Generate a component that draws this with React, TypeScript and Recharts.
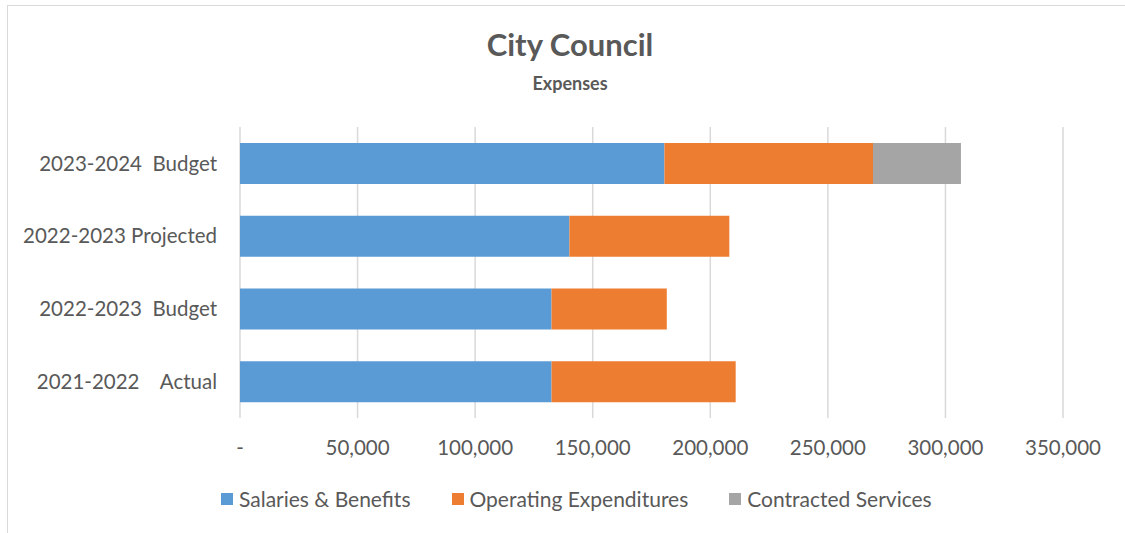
import React from 'react';
import { BarChart, Bar, XAxis, YAxis, CartesianGrid } from 'recharts';

const categories = ['2023-2024  Budget', '2022-2023 Projected', '2022-2023  Budget', '2021-2022    Actual'];
const salaries = [180500, 140100, 132500, 132500];
const operating = [88700, 68000, 49000, 78300];
const contracted = [37400, 0, 0, 0];
const xTicks = [0, 50000, 100000, 150000, 200000, 250000, 300000, 350000];

const seriesNames = ['Salaries & Benefits', 'Operating Expenditures', 'Contracted Services'];
const seriesKeys = ['salaries', 'operating', 'contracted'];
const seriesColors = ['#5B9BD5', '#ED7D31', '#A5A5A5'];

const data = categories.map((c, i) => ({
  category: c,
  salaries: salaries[i],
  operating: operating[i],
  contracted: contracted[i],
}));

const FONT = 'Lato, "Liberation Sans", sans-serif';
const TEXT = '#595959';

const fmt = (v: number) => (v === 0 ? '-' : v.toLocaleString('en-US'));

const YTick = (props: any) => {
  const { x, y, payload } = props;
  return (
    <text
      x={x}
      y={y}
      dy="0.355em"
      textAnchor="end"
      fill={TEXT}
      fontSize={20.5}
      fontFamily={FONT}
      xmlSpace="preserve"
      style={{ whiteSpace: 'pre' }}
    >
      {payload.value}
    </text>
  );
};

export default function App() {
  return (
    <div
      style={{
        position: 'absolute',
        left: 0,
        top: 0,
        width: 1125,
        height: 533,
        overflow: 'hidden',
        background: '#fff',
        fontFamily: FONT,
      }}
    >
      <div
        style={{
          position: 'absolute',
          left: 7,
          top: 5,
          right: -10,
          bottom: -10,
          border: '1.5px solid #d9d9d9',
        }}
      />
      <div
        style={{
          position: 'absolute',
          left: 0,
          top: 29,
          width: 1125,
          paddingLeft: 15,
          boxSizing: 'border-box',
          textAlign: 'center',
          fontSize: 31,
          lineHeight: '31px',
          fontWeight: 700,
          color: TEXT,
        }}
      >
        City Council
      </div>
      <div
        style={{
          position: 'absolute',
          left: 0,
          top: 74,
          width: 1125,
          paddingLeft: 15,
          boxSizing: 'border-box',
          textAlign: 'center',
          fontSize: 18,
          lineHeight: '18px',
          fontWeight: 700,
          color: TEXT,
        }}
      >
        Expenses
      </div>
      <div style={{ position: 'absolute', left: 0, top: 0 }}>
        <BarChart
          width={1125}
          height={533}
          data={data}
          layout="vertical"
          margin={{ top: 127, right: 62, bottom: 85, left: 0 }}
        >
          <CartesianGrid horizontal={false} vertical={true} stroke="#d9d9d9" strokeWidth={1.5} />
          <XAxis
            type="number"
            domain={[0, 350000]}
            ticks={xTicks}
            tickFormatter={fmt}
            axisLine={false}
            tickLine={false}
            tickMargin={16}
            height={30}
            interval={0}
            tick={{ fill: TEXT, fontSize: 20.5, fontFamily: FONT }}
          />
          <YAxis
            type="category"
            dataKey="category"
            width={240}
            axisLine={false}
            tickLine={false}
            tickMargin={17}
            interval={0}
            tick={<YTick />}
          />
          {seriesKeys.map((k, i) => (
            <Bar
              key={k}
              dataKey={k}
              name={seriesNames[i]}
              stackId="a"
              fill={seriesColors[i]}
              barSize={41}
              isAnimationActive={false}
            />
          ))}
        </BarChart>
      </div>
      <div
        style={{
          position: 'absolute',
          left: 221,
          top: 488,
          display: 'flex',
          alignItems: 'center',
          fontSize: 21,
          lineHeight: '21px',
          color: TEXT,
          whiteSpace: 'nowrap',
        }}
      >
        {seriesNames.map((n, i) => (
          <div key={n} style={{ display: 'flex', alignItems: 'center', marginRight: 41 }}>
            <div style={{ width: 12, height: 12, background: seriesColors[i], marginRight: 6 }} />
            <span>{n}</span>
          </div>
        ))}
      </div>
    </div>
  );
}
